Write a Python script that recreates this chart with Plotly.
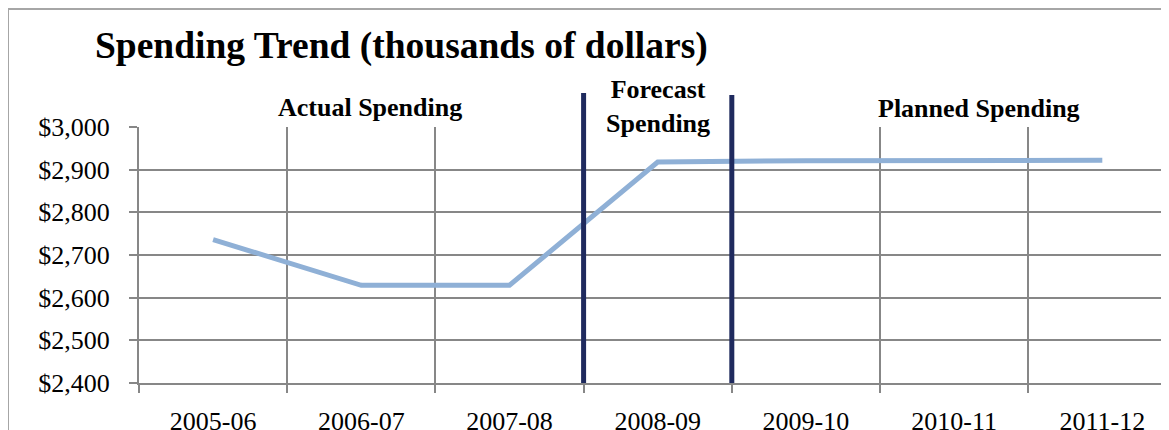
import plotly.graph_objects as go

categories = ["2005-06", "2006-07", "2007-08", "2008-09", "2009-10", "2010-11", "2011-12"]
spending = [2736, 2629, 2629, 2918, 2921, 2922, 2922]
y_ticks = [2400, 2500, 2600, 2700, 2800, 2900, 3000]
y_tick_labels = ["$2,400", "$2,500", "$2,600", "$2,700", "$2,800", "$2,900", "$3,000"]
phase_bounds = [2.5, 3.5]
phase_labels = ["Actual Spending", "Forecast<br>Spending", "Planned Spending"]
phase_label_x = [1.06, 3.0, 5.17]

FONT = "Liberation Serif"
GRID = "#878787"
OFF = 8  # default page body margin

W, H = 1169 - OFF, 430 - OFF
L, T = 139 - OFF, 127 - OFF
PH = 256

x_idx = list(range(len(categories)))

fig = go.Figure()
fig.add_trace(go.Scatter(
    x=x_idx, y=spending, mode="lines",
    line=dict(color="#8fb0d6", width=5, shape="linear"),
    hoverinfo="skip", showlegend=False,
))

fig.update_layout(
    width=W, height=H,
    margin=dict(l=L, r=0, t=T, b=H - T - PH, autoexpand=False),
    paper_bgcolor="white", plot_bgcolor="white",
    font=dict(family=FONT, color="black"),
    title=dict(
        text="<b>Spending Trend (thousands of dollars)</b>",
        font=dict(family=FONT, size=37.5, color="black"),
        xref="container", yref="container",
        x=(95 - OFF) / W, xanchor="left", y=1 - (45 - OFF) / H, yanchor="middle",
    ),
    showlegend=False,
)

fig.update_xaxes(
    range=[-0.5, 6.45], automargin=False,
    tickmode="array", tickvals=x_idx, ticktext=categories,
    ticks="", showgrid=False,
    tickfont=dict(family=FONT, size=26, color="black"),
    ticklabelstandoff=14,
    showline=True, linecolor=GRID, linewidth=2,
    minor=dict(tick0=0.5, dtick=1, showgrid=True, gridcolor=GRID, gridwidth=2,
               ticks="outside", ticklen=8, tickcolor=GRID, tickwidth=2),
    zeroline=False,
)
fig.update_yaxes(
    range=[2400, 3000], automargin=False,
    tickmode="array", tickvals=y_ticks, ticktext=y_tick_labels,
    ticks="outside", ticklen=8, tickcolor=GRID, tickwidth=2,
    ticklabelstandoff=14,
    tickfont=dict(family=FONT, size=26, color="black"),
    showgrid=True, gridcolor=GRID, gridwidth=2,
    showline=True, linecolor=GRID, linewidth=2,
    zeroline=False,
)

# outer chart frame: only its left and top edges are inside the window
frame_left = (8 - 139) / 1030
frame_top = 1 + (127 - 9) / PH
fig.add_shape(type="line", xref="paper", yref="paper",
              x0=frame_left, x1=frame_left, y0=-1, y1=frame_top,
              line=dict(color="#a6a6a6", width=2), layer="below")
fig.add_shape(type="line", xref="paper", yref="paper",
              x0=frame_left, x1=2, y0=frame_top, y1=frame_top,
              line=dict(color="#a6a6a6", width=2), layer="below")

# phase separator lines
tops = [1 + 34 / PH, 1 + 32 / PH]
for xb, yt in zip(phase_bounds, tops):
    fig.add_shape(type="line", xref="x", yref="paper", x0=xb, x1=xb, y0=0, y1=yt,
                  line=dict(color="#1f2a5e", width=5), layer="above")

label_y = [1 + 20 / PH, 1 + 21 / PH, 1 + 19 / PH]
for txt, xx, yy in zip(phase_labels, phase_label_x, label_y):
    fig.add_annotation(x=xx, y=yy, xref="x", yref="paper", text=f"<b>{txt}</b>",
                       showarrow=False, xanchor="center", yanchor="middle",
                       font=dict(family=FONT, size=26, color="black"),
                       bgcolor="rgba(0,0,0,0)")

fig.write_html("out.html")
